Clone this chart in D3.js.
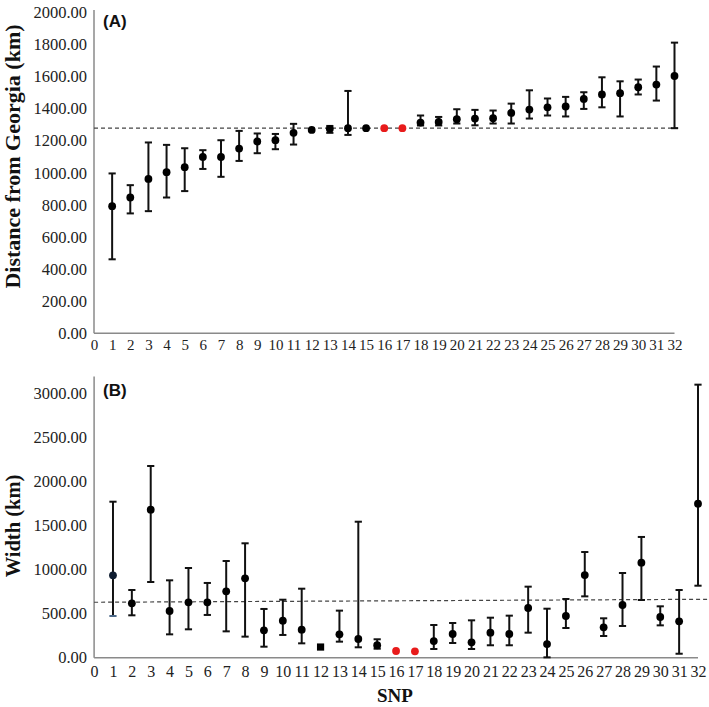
<!DOCTYPE html>
<html><head><meta charset="utf-8">
<script src="https://cdn.jsdelivr.net/npm/d3@7"></script>
<style>
body{margin:0;background:#fff;}
svg{display:block;}
</style></head>
<body>
<svg id="chart" width="709" height="707"></svg>
<script>
// ---- data ----
const snp = d3.range(1, 33);
const distMean  = [792,846,962,1004,1035,1099,1099,1151,1195,1203,1249,1267,1274,1278,1278,1278,1278,1313,1317,1334,1338,1340,1373,1394,1408,1413,1460,1488,1496,1533,1550,1603];
const distUpper = [996,923,1189,1174,1153,1141,1203,1261,1245,1242,1305,null,1292,1510,null,null,null,1357,1348,1396,1392,1388,1431,1514,1463,1473,1502,1595,1570,1581,1662,1811];
const distLower = [461,747,761,846,886,1024,975,1074,1122,1147,1176,null,1249,1236,null,null,null,1295,1295,1307,1296,1307,1307,1338,1357,1351,1398,1408,1351,1488,1450,1278];
const distRef = 1278;

const widthMean  = [935,617,1679,530,628,628,753,901,311,420,318,121,265,212,141,76,72,189,269,174,284,269,564,155,473,938,345,598,1078,462,413,1748];
const widthUpper = [1770,768,2175,878,1018,848,1097,1298,553,658,783,null,534,1543,209,null,null,371,394,424,454,477,806,556,666,1199,447,961,1370,583,768,3098];
const widthLower = [473,481,859,265,322,485,299,239,125,258,163,null,182,118,102,null,null,99,167,99,141,141,284,4,337,696,246,360,655,367,45,817];
const widthRef = [629, 663];      // dashed reference line, left -> right
const widthRefX = [0, 32.6];

const redSNP = [16, 17];
const squareSNP = [12];

const distTicks = d3.range(0, 2001, 200);
const widthTicks = d3.range(0, 3001, 500);
const xTicks = d3.range(0, 33);

// ---- drawing ----
const svg = d3.select("#chart");
const serif = "Liberation Serif, Times New Roman, serif";
const sans = "Liberation Sans, Arial, sans-serif";
const axisColor = "#8a8a8a";

function panel(opts) {
  const {x, y, mean, upper, lower, xFont, yFont, label, labelY, yTop, markerSquareSet} = opts;
  const g = svg.append("g");

  // axis lines
  g.append("line").attr("x1", x(0)).attr("x2", x(0))
    .attr("y1", y(0)).attr("y2", y(yTop))
    .attr("stroke", axisColor).attr("stroke-width", 1.5);
  g.append("line").attr("x1", x(0)).attr("x2", x(32))
    .attr("y1", y(0)).attr("y2", y(0))
    .attr("stroke", axisColor).attr("stroke-width", 1.5);

  // y axis labels
  const ya = g.append("g").attr("transform", `translate(${x(0)},0)`)
    .call(d3.axisLeft(y).tickValues(opts.yTicks).tickSize(0).tickPadding(7)
      .tickFormat(d3.format(".2f")));
  ya.attr("font-family", null).attr("font-size", null);
  ya.select(".domain").remove();
  ya.selectAll("text").style("font-family", serif).style("font-size", yFont + "px").attr("fill", "#222");

  // x axis labels
  const xa = g.append("g").attr("transform", `translate(0,${y(0)})`)
    .call(d3.axisBottom(x).tickValues(xTicks).tickSize(0).tickPadding(opts.xPad)
      .tickFormat(d3.format("d")));
  xa.attr("font-family", null).attr("font-size", null);
  xa.select(".domain").remove();
  xa.selectAll("text").style("font-family", serif).style("font-size", xFont + "px").attr("fill", "#222");

  // reference dashed line
  g.append("line")
    .attr("x1", x(opts.refX[0])).attr("x2", x(opts.refX[1]))
    .attr("y1", y(opts.refY[0])).attr("y2", y(opts.refY[1]))
    .attr("stroke", "#444").attr("stroke-width", 1.2).attr("stroke-dasharray", "4,3");

  // error bars
  const capW = 3.6;
  snp.forEach((s, i) => {
    if (upper[i] == null || lower[i] == null) return;
    const cx = x(s);
    g.append("line").attr("x1", cx).attr("x2", cx).attr("y1", y(upper[i])).attr("y2", y(lower[i]))
      .attr("stroke", "#111").attr("stroke-width", 2);
    g.append("line").attr("x1", cx - capW).attr("x2", cx + capW).attr("y1", y(upper[i])).attr("y2", y(upper[i]))
      .attr("stroke", "#111").attr("stroke-width", 2);
    g.append("line").attr("x1", cx - capW).attr("x2", cx + capW).attr("y1", y(lower[i])).attr("y2", y(lower[i]))
      .attr("stroke", (opts.blueFirst && i === 0) ? "#4d6a8a" : "#111").attr("stroke-width", 2);
  });

  // markers
  snp.forEach((s, i) => {
    const cx = x(s), cy = y(mean[i]);
    const red = redSNP.includes(s);
    let fill = red ? "#e81b1b" : "#000";
    if (opts.blueFirst && i === 0) fill = "#0e1c30";
    if (markerSquareSet.includes(s)) {
      g.append("rect").attr("x", cx - 3.6).attr("y", cy - 3.6).attr("width", 7.2).attr("height", 7.2).attr("fill", fill);
    } else {
      g.append("circle").attr("cx", cx).attr("cy", cy).attr("r", 3.9).attr("fill", fill);
    }
  });

  // panel label
  g.append("text").attr("x", 103).attr("y", labelY)
    .style("font-family", sans).attr("font-weight", "bold").style("font-size", "17px")
    .attr("fill", "#111").text(label);
  return g;
}

const xA = d3.scaleLinear().domain([0, 32]).range([94, 674.5]);
const yA = d3.scaleLinear().domain([0, 2000]).range([333.3, 12.3]);
panel({x: xA, y: yA, mean: distMean, upper: distUpper, lower: distLower,
  yTicks: distTicks, xFont: 15, yFont: 16.5, xPad: 6, label: "(A)", labelY: 27, yTop: 2015,
  refX: [0, 32.2], refY: [distRef, distRef], markerSquareSet: []});

const xB = d3.scaleLinear().domain([0, 32]).range([94.1, 698]);
const yB = d3.scaleLinear().domain([0, 3000]).range([657.7, 393.3]);
panel({x: xB, y: yB, mean: widthMean, upper: widthUpper, lower: widthLower,
  yTicks: widthTicks, xFont: 16, yFont: 16.5, xPad: 8, label: "(B)", labelY: 396, yTop: 3190,
  refX: widthRefX, refY: widthRef, markerSquareSet: squareSNP, blueFirst: true});

// axis titles
svg.append("text")
  .attr("transform", `translate(20,${156.5}) rotate(-90)`)
  .attr("text-anchor", "middle").style("font-family", serif).attr("font-weight", "bold")
  .style("font-size", "22px").attr("fill", "#111").text("Distance from Georgia (km)");
svg.append("text")
  .attr("transform", `translate(20,${526}) rotate(-90)`)
  .attr("text-anchor", "middle").style("font-family", serif).attr("font-weight", "bold")
  .style("font-size", "20.5px").attr("fill", "#111").text("Width (km)");
svg.append("text")
  .attr("x", 395).attr("y", 701.5)
  .attr("text-anchor", "middle").style("font-family", serif).attr("font-weight", "bold")
  .style("font-size", "19px").attr("fill", "#111").text("SNP");
</script>
</body></html>
